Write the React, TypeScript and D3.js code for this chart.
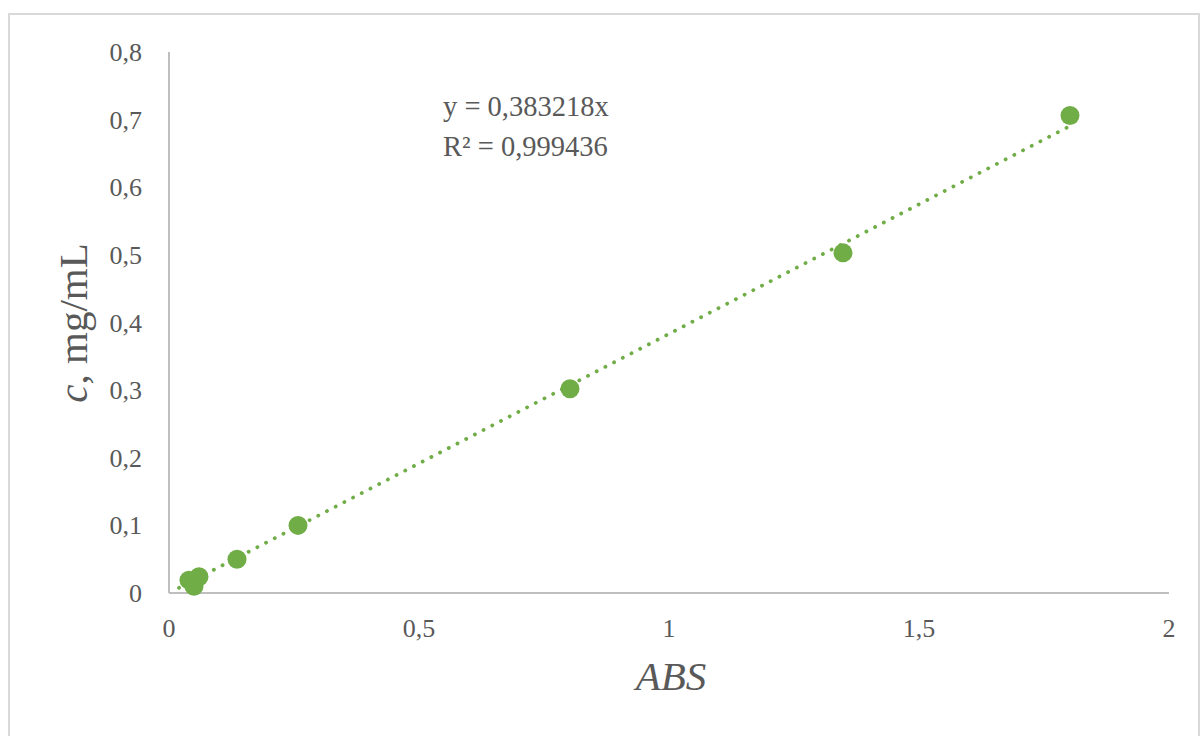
import React from "react";
import * as d3 from "d3";

const absValues = [0.04, 0.05, 0.06, 0.136, 0.258, 0.802, 1.348, 1.802];
const concValues = [0.019, 0.01, 0.024, 0.05, 0.1, 0.302, 0.503, 0.706];
const xTicks = [0, 0.5, 1, 1.5, 2];
const yTicks = [0, 0.1, 0.2, 0.3, 0.4, 0.5, 0.6, 0.7, 0.8];
const slope = 0.383218;
const equationLines = ["y = 0,383218x", "R² = 0,999436"];

const fmt = (v: number) => String(v).replace(".", ",");

export default function App() {
  const W = 1203, H = 736;
  const x = d3.scaleLinear().domain([0, 2]).range([169, 1169]);
  const y = d3.scaleLinear().domain([0, 0.8]).range([593, 52]);
  const green = "#70AD47";
  const axisCol = "#BFBFBF";
  const textCol = "#595959";
  const font = "'Liberation Serif', 'Times New Roman', serif";
  const xMin = d3.min(absValues)!, xMax = d3.max(absValues)!;
  const line = d3.line<number>().x(d => x(d)).y(d => y(slope * d));

  return (
    <svg width={W} height={H} style={{ position: "absolute", left: 0, top: 0 }}>
      <rect x={0} y={0} width={W} height={H} fill="#fff" />
      <rect x={9} y={14} width={1190} height={740} fill="#fff" stroke="#D9D9D9" strokeWidth={2} />
      <line x1={x(0)} x2={x(0)} y1={y(0.8)} y2={y(0)} stroke={axisCol} strokeWidth={2} />
      <line x1={x(0)} x2={x(2)} y1={y(0)} y2={y(0)} stroke={axisCol} strokeWidth={2} />
      {yTicks.map(t => (
        <text key={"y" + t} x={x(0) - 27} y={y(t)} dy="0.35em" textAnchor="end" fontFamily={font} fontSize={26} fill={textCol}>{fmt(t)}</text>
      ))}
      {xTicks.map(t => (
        <text key={"x" + t} x={x(t)} y={y(0) + 44} textAnchor="middle" fontFamily={font} fontSize={26} fill={textCol}>{fmt(t)}</text>
      ))}
      <path d={line([xMin - 0.02, xMax]) || ""} fill="none" stroke={green} strokeWidth={3.8} strokeDasharray="0.1 9.7" strokeLinecap="round" />
      {absValues.map((a, i) => (
        <circle key={i} cx={x(a)} cy={y(concValues[i])} r={9.5} fill={green} />
      ))}
      <text x={671} y={690} textAnchor="middle" fontFamily={font} fontSize={41} fontStyle="italic" fill={textCol}>ABS</text>
      <text transform={`translate(87,323) rotate(-90)`} textAnchor="middle" fontFamily={font} fontSize={41} fill={textCol}>
        <tspan fontStyle="italic">c</tspan>, mg/mL
      </text>
      {equationLines.map((l, i) => (
        <text key={l} x={443} y={116 + i * 40} fontFamily={font} fontSize={28.5} fill={textCol}>{l}</text>
      ))}
    </svg>
  );
}
